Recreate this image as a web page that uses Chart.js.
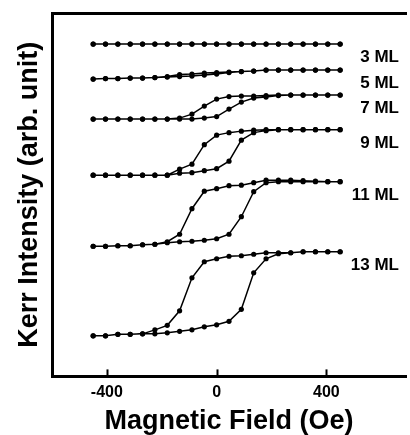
<!DOCTYPE html>
<html lang="en">
<head>
  <meta charset="UTF-8">
  <title>Kerr hysteresis loops</title>
  <script src="https://cdn.jsdelivr.net/npm/chart.js"></script>
  <style>
    body {
      margin: 0;
      background: #fff;
    }
    canvas {
      display: block;
    }
  </style>
</head>
<body>
  <canvas id="kerrChart" width="410" height="435"></canvas>

  <script>
    // field values (Oe), same for every film
    const fieldOe = [-450, -405, -360, -315, -270, -225, -180, -135, -90, -45, 0, 45, 90, 135, 180, 225, 270, 315, 360, 405, 450];
    const xTickValues = [-400, 0, 400];
    const sampleNames = ['3 ML', '5 ML', '7 ML', '9 ML', '11 ML', '13 ML'];

    // Kerr signal (arb. unit), lower branch = field sweeping up, upper branch = field sweeping down
    const ml3Up   = [332, 332, 332, 332, 332, 332, 332, 332, 332, 332, 332, 332, 332, 332, 332, 332, 332, 332, 332, 332, 332];
    const ml3Down = [332, 332, 332, 332, 332, 332, 332, 332, 332, 332, 332, 332, 332, 332, 332, 332, 332, 332, 332, 332, 332];
    const ml5Up   = [297, 297.5, 297.5, 298, 298, 298.5, 299, 299.5, 300, 301, 302, 303.5, 304.5, 305, 306, 306, 306, 306, 306, 306, 306];
    const ml5Down = [297, 297.5, 297.5, 298, 298, 298.5, 299.5, 301.5, 302, 303, 303.5, 304, 304.5, 305, 306, 306, 306, 306, 306, 306, 306];
    const ml7Up   = [257, 257, 257, 257, 257, 257, 257, 257, 257, 258, 259.5, 267, 274, 278, 279, 280.5, 281, 281, 281, 281, 281];
    const ml7Down = [257, 257, 257, 257, 257, 257, 257, 258, 262, 270, 277, 279.5, 280, 280, 280.5, 281, 281, 281, 281, 281, 281];
    const ml9Up   = [201, 201, 201, 201, 201, 201, 201, 203, 203.5, 205.5, 207.5, 215, 236, 243.5, 245.5, 246.5, 246.5, 246.5, 246.5, 246.5, 246.5];
    const ml9Down = [201, 201, 201, 201, 201, 201, 201, 207, 212, 231.5, 241, 243.5, 245, 246, 246.5, 246.5, 246.5, 246.5, 246.5, 246.5, 246.5];
    const ml11Up   = [130, 130, 130.5, 130.5, 131.5, 132, 133.5, 134.5, 135, 136, 137.5, 142, 159.5, 184.5, 193.5, 194.5, 194.5, 194.5, 194.5, 194.5, 194.5];
    const ml11Down = [130, 130, 130.5, 130.5, 131.5, 132, 134.5, 142, 167.5, 185, 187.5, 190.5, 191, 193.5, 196, 196, 196, 195.5, 195, 194.5, 194.5];
    const ml13Up   = [40.5, 40.5, 42, 42, 42.5, 42.5, 43.5, 45, 46.5, 49.5, 51.5, 55, 67, 103.5, 117.5, 122.5, 123.5, 124.5, 124.5, 124.5, 124.5];
    const ml13Down = [40.5, 40.5, 42, 42, 42.5, 46.5, 51, 65.5, 98.5, 114.5, 117.5, 120, 120.5, 122, 123.5, 123.5, 123.5, 124.5, 124.5, 124.5, 124.5];

    const upBranches = [ml3Up, ml5Up, ml7Up, ml9Up, ml11Up, ml13Up];
    const downBranches = [ml3Down, ml5Down, ml7Down, ml9Down, ml11Down, ml13Down];

    // one closed loop per film: sweep up, then back down
    function loopPoints(up, down) {
      const pts = fieldOe.map((h, i) => ({ x: h, y: up[i] }));
      for (let i = fieldOe.length - 1; i >= 0; i--) {
        pts.push({ x: fieldOe[i], y: down[i] });
      }
      return pts;
    }

    const datasets = sampleNames.map((name, k) => ({
      label: name,
      data: loopPoints(upBranches[k], downBranches[k]),
      showLine: true,
      borderColor: '#000',
      backgroundColor: '#000',
      borderWidth: 1.5,
      pointRadius: 2.6,
      pointBorderWidth: 0,
      pointBackgroundColor: '#000',
      tension: 0
    }));

    const fontFamily = 'Arial, "Liberation Sans", Helvetica, sans-serif';

    // sample names at the right of each loop + inward x ticks
    const extrasPlugin = {
      id: 'extras',
      afterDraw(chart) {
        const ctx = chart.ctx;
        const xs = chart.scales.x;
        const ys = chart.scales.y;
        ctx.save();
        ctx.fillStyle = '#000';
        ctx.font = 'bold 17px ' + fontFamily;
        ctx.textAlign = 'right';
        ctx.textBaseline = 'middle';
        sampleNames.forEach((name, k) => {
          const last = upBranches[k][upBranches[k].length - 1];
          ctx.fillText(name, 399, ys.getPixelForValue(last) + 13.5);
        });
        ctx.strokeStyle = '#000';
        ctx.lineWidth = 2;
        xTickValues.forEach(v => {
          const px = Math.round(xs.getPixelForValue(v)) + 0.5;
          ctx.beginPath();
          ctx.moveTo(px, chart.chartArea.bottom);
          ctx.lineTo(px, chart.chartArea.bottom - 7);
          ctx.stroke();
        });
        ctx.restore();
      }
    };

    new Chart(document.getElementById('kerrChart'), {
      type: 'scatter',
      data: { datasets: datasets },
      options: {
        responsive: false,
        animation: false,
        layout: { padding: { top: 13, right: 0, bottom: 0, left: 0 } },
        plugins: {
          legend: { display: false },
          tooltip: { enabled: false }
        },
        scales: {
          x: {
            type: 'linear',
            min: -600,
            max: 690,
            afterBuildTicks: scale => {
              scale.ticks = xTickValues.map(v => ({ value: v }));
            },
            grid: { display: false, drawTicks: false },
            border: { display: true, width: 3, color: '#000' },
            ticks: {
              color: '#000',
              padding: 7,
              font: { family: fontFamily, size: 16, weight: 'bold', lineHeight: 1.1 },
              callback: v => String(v)
            },
            title: {
              display: true,
              text: 'Magnetic Field (Oe)',
              color: '#000',
              padding: { top: 0, bottom: 0 },
              font: { family: fontFamily, size: 27, weight: 'bold', lineHeight: 1 }
            }
          },
          x2: {
            type: 'linear',
            position: 'top',
            grid: { display: false, drawTicks: false },
            ticks: { display: false },
            border: { display: true, width: 3, color: '#000' }
          },
          y: {
            min: 0,
            max: 363,
            grid: { display: false, drawTicks: false },
            ticks: { display: false },
            border: { display: true, width: 3, color: '#000' },
            title: {
              display: true,
              text: 'Kerr Intensity (arb. unit)',
              color: '#000',
              padding: { top: 13, bottom: 6.6 },
              font: { family: fontFamily, size: 27, weight: 'bold', lineHeight: 1.2 }
            }
          }
        }
      },
      plugins: [extrasPlugin]
    });
  </script>
</body>
</html>
